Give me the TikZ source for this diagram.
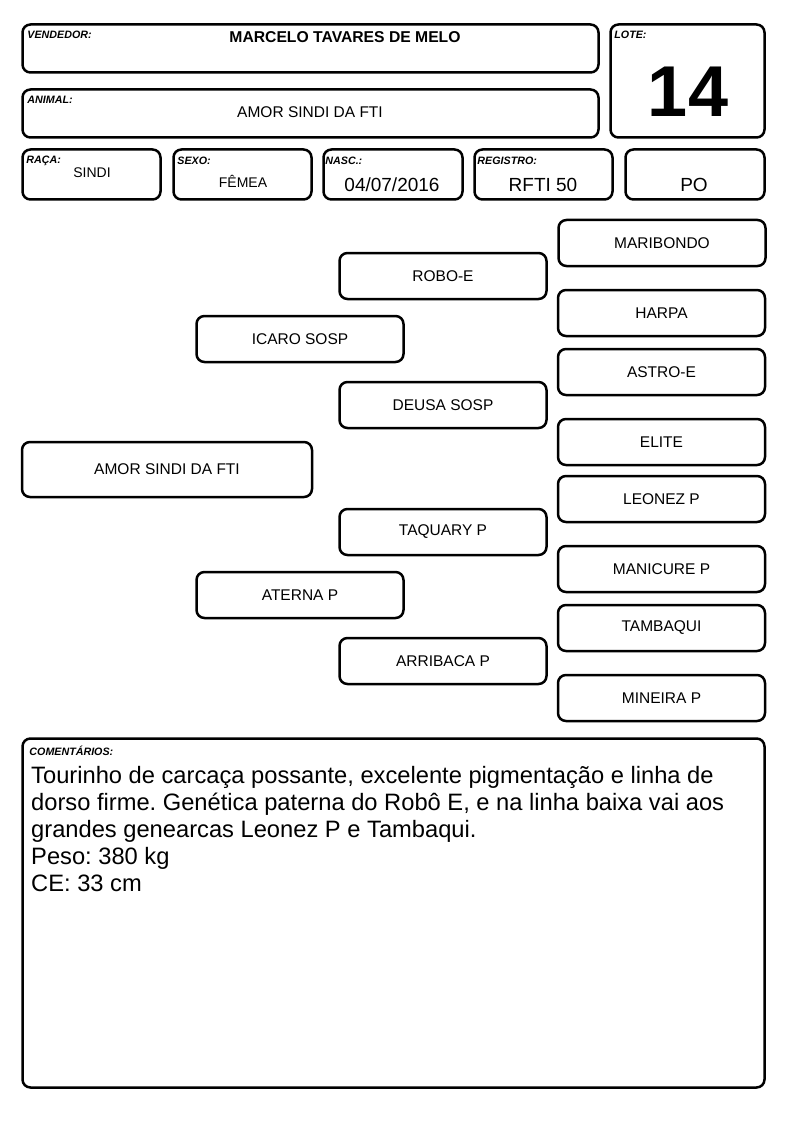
\documentclass[tikz,border=0pt]{standalone}
\usepackage{fontspec}
\setmainfont{Liberation Sans}
\newcommand{\fsz}[1]{\fontsize{#1}{#1}\selectfont}
\frenchspacing

\begin{document}
\begin{tikzpicture}[x=1pt,y=1pt]
\tikzset{
  box/.style={draw=black, line width=2.5pt, rounded corners=8pt, inner sep=0pt},
  cow/.style={box, minimum width=207, minimum height=46, font=\fsz{15.5}},
  tag/.style={anchor=north west, inner sep=0pt, font=\bfseries\itshape\fsz{10.7}},
  val/.style={anchor=base, inner sep=0pt},
}
\useasboundingbox (0,0) rectangle (794,-1123);
% header
\node[box, minimum width=576, minimum height=48] (vendedor) at (310.5,-48.5) {};
\node[box, minimum width=576, minimum height=48] (animal) at (310.5,-113.5) {};
\node[box, minimum width=154, minimum height=113] (lote) at (687.5,-81) {};
\node[box, minimum width=138, minimum height=50] (raca) at (91.5,-174.5) {};
\node[box, minimum width=138, minimum height=50] (sexo) at (242.5,-174.5) {};
\node[box, minimum width=139, minimum height=50] (nasc) at (393,-174.5) {};
\node[box, minimum width=138, minimum height=50] (registro) at (543.5,-174.5) {};
\node[box, minimum width=139, minimum height=50] (po) at (695,-174.5) {};
\node[tag] at ([shift={(6,-8)}]vendedor.north west) {VENDEDOR:};
\node[tag] at ([shift={(6,-8)}]animal.north west) {ANIMAL:};
\node[tag] at ([shift={(5,-8)}]lote.north west) {LOTE:};
\node[tag] at ([shift={(5,-8)}]raca.north west) {RAÇA:};
\node[tag] at ([shift={(5,-9)}]sexo.north west) {SEXO:};
\node[tag] at ([shift={(3,-9)}]nasc.north west) {NASC.:};
\node[tag] at ([shift={(4,-9)}]registro.north west) {REGISTRO:};
\node[val, font=\bfseries\fsz{15.7}] (vendname) at (345,-43) {MARCELO TAVARES DE MELO};
\node[val, font=\fsz{15.5}] (animalname) at (310,-118) {AMOR SINDI DA FTI};
\node[val, font=\bfseries\fsz{72}] (lotenum) at (688,-117) {14};
\node[val, font=\fsz{14}] (racaval) at (92,-178) {SINDI};
\node[val, font=\fsz{14}] (sexoval) at (243,-188) {FÊMEA};
\node[val, font=\fsz{19}] (nascval) at (392,-192) {04/07/2016};
\node[val, font=\fsz{19}] (regval) at (543,-192) {RFTI 50};
\node[val, font=\fsz{19}] (poval) at (694,-192) {PO};
% pedigree
\node[box, minimum width=290, minimum height=55, font=\fsz{15.5}] (self) at (167,-469.5) {AMOR SINDI DA FTI};
\node[cow] (sire) at (300,-339) {ICARO SOSP};
\node[cow] (dam) at (300,-595) {ATERNA P};
\node[cow] (ss) at (443,-276) {ROBO-E};
\node[cow] (sd) at (443,-405) {DEUSA SOSP};
\node[cow] (ds) at (443,-532) {TAQUARY P};
\node[cow] (dd) at (443,-661) {ARRIBACA P};
\node[cow] (sss) at (662,-243) {MARIBONDO};
\node[cow] (ssd) at (661.5,-313) {HARPA};
\node[cow] (sds) at (661.5,-372) {ASTRO-E};
\node[cow] (sdd) at (661.5,-442) {ELITE};
\node[cow] (dss) at (661.5,-499) {LEONEZ P};
\node[cow] (dsd) at (661.5,-569) {MANICURE P};
\node[cow] (dds) at (661.5,-628) {TAMBAQUI};
\node[cow] (ddd) at (661.5,-698) {MINEIRA P};
% comments
\node[box, minimum width=742, minimum height=349] (obs) at (393.5,-913) {};
\node[tag] at ([shift={(8,-9)}]obs.north west) {COMENTÁRIOS:};
\node[anchor=north west, inner sep=0pt, align=left, font=\fontsize{23.7}{27}\selectfont] (obstext) at (31,-766)
  {Tourinho de carcaça possante, excelente pigmentação e linha de\\
   dorso firme. Genética paterna do Robô E, e na linha baixa vai aos\\
   grandes genearcas Leonez P e Tambaqui.\\
   Peso: 380 kg\\
   CE: 33 cm};
\end{tikzpicture}
\end{document}
